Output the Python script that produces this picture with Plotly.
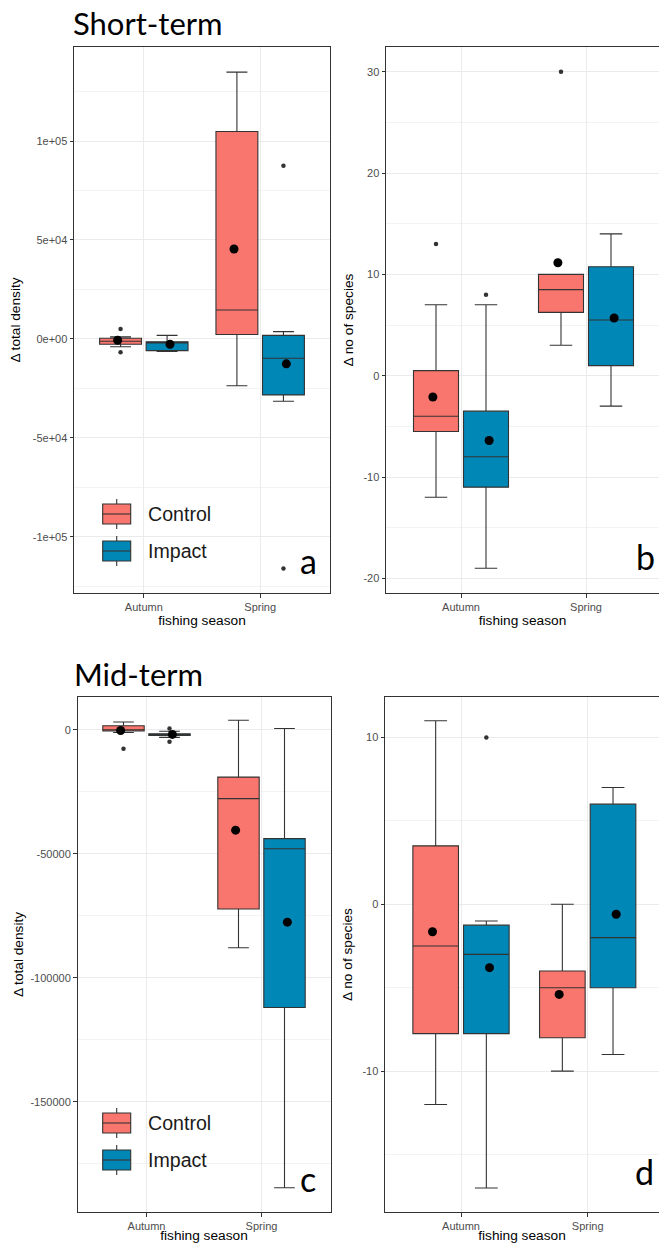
import plotly.graph_objects as go

W, H = 659, 1243

seasons = ["Autumn", "Spring"]
groups = ["Control", "Impact"]
fills = {"Control": "#F8766D", "Impact": "#0087B5"}

# Box summaries per season [Autumn, Spring]:
# (lower whisker, Q1, median, Q3, upper whisker)

# a) Short-term, Δ total density
a_control_box = [(-4000, -2700, -1200, 300, 1000), (-23700, 2200, 14600, 104800, 134800)]
a_control_mean = [-700, 45400]
a_control_out = [[5000, -6800], []]
a_impact_box = [(-6300, -5900, -2000, -1500, 1800), (-31500, -28300, -9800, 1800, 3700)]
a_impact_mean = [-2700, -12600]
a_impact_out = [[], [87500, -116000]]

# b) Short-term, Δ no of species
b_control_box = [(-12, -5.5, -4, 0.5, 7), (3, 6.25, 8.5, 10, 10)]
b_control_mean = [-2.1, 11.15]
b_control_out = [[13], [30]]
b_impact_box = [(-19, -11, -8, -3.5, 7), (-3, 1, 5.5, 10.75, 14)]
b_impact_mean = [-6.4, 5.7]
b_impact_out = [[8], []]

# c) Mid-term, Δ total density
c_control_box = [(-1000, -400, 100, 1700, 3200), (-87800, -72200, -27700, -19000, 3900)]
c_control_mean = [-200, -40400]
c_control_out = [[-7600], []]
c_impact_box = [(-3000, -2200, -1900, -1500, -500), (-184600, -111900, -47900, -43800, 600)]
c_impact_mean = [-1800, -77500]
c_impact_out = [[600, -4700], []]

# d) Mid-term, Δ no of species
d_control_box = [(-12, -7.75, -2.5, 3.5, 11), (-10, -8, -5, -4, 0)]
d_control_mean = [-1.65, -5.4]
d_control_out = [[], []]
d_impact_box = [(-17, -7.75, -3, -1.25, -1), (-9, -5, -2, 6, 7)]
d_impact_mean = [-3.8, -0.6]
d_impact_out = [[10], []]

panels = {
    "a": {"Control": (a_control_box, a_control_mean, a_control_out),
          "Impact": (a_impact_box, a_impact_mean, a_impact_out)},
    "b": {"Control": (b_control_box, b_control_mean, b_control_out),
          "Impact": (b_impact_box, b_impact_mean, b_impact_out)},
    "c": {"Control": (c_control_box, c_control_mean, c_control_out),
          "Impact": (c_impact_box, c_impact_mean, c_impact_out)},
    "d": {"Control": (d_control_box, d_control_mean, d_control_out),
          "Impact": (d_impact_box, d_impact_mean, d_impact_out)},
}

# y-axis ticks
a_ticks = [-100000, -50000, 0, 50000, 100000]
a_ticktext = ["-1e+05", "-5e+04", "0e+00", "5e+04", "1e+05"]
b_ticks = [-20, -10, 0, 10, 20, 30]
c_ticks = [-150000, -100000, -50000, 0]
d_ticks = [-10, 0, 10]


def px(x):
    return x / W


def py(y):
    return 1 - y / H


# pixel boxes of each panel: (left, top, right, bottom)
frames = {
    "a": (74, 47, 330, 593),
    "b": (386, 47, 659, 593),
    "c": (77.5, 697, 330.5, 1212),
    "d": (385, 697, 659, 1212),
}
xranges = {"a": [0.4, 2.6], "b": [0.4, 2.584], "c": [0.4, 2.6], "d": [0.4, 2.563]}
yranges = {"a": [-128400, 147500], "b": [-21.45, 32.45],
           "c": [-194400, 13300], "d": [-18.44, 12.42]}
ytitle = {"a": "Δ total density", "b": "Δ no of species",
          "c": "Δ total density", "d": "Δ no of species"}
ystandoff = {"a": 8, "b": 6, "c": 3, "d": 6}
axis_idx = {"a": "", "b": "2", "c": "3", "d": "4"}

BOX_OFF = 0.2
MEAN_OFF = 0.225
BOX_W = 0.36
GRID = "#EBEBEB"
MINOR = "#F3F3F3"
INK = "#333333"
TICKFONT = dict(family="Liberation Sans, Arial, sans-serif", size=11, color="#4D4D4D")
TITLEFONT = dict(family="Liberation Sans, Arial, sans-serif", size=13.7, color="black")

fig = go.Figure()

for key, pdata in panels.items():
    xa = "x" + axis_idx[key]
    ya = "y" + axis_idx[key]
    for g in groups:
        box, mean, out = pdata[g]
        sign = -1 if g == "Control" else 1
        centres = [i + 1 + sign * BOX_OFF for i in range(len(seasons))]
        low, q1, med, q3, up = (list(v) for v in zip(*box))
        fig.add_trace(go.Box(
            x=centres, lowerfence=low, q1=q1, median=med, q3=q3, upperfence=up,
            width=BOX_W, fillcolor=fills[g], line=dict(color=INK, width=1.1),
            boxpoints=False, name=g, showlegend=False, xaxis=xa, yaxis=ya,
        ))
        ox, oy = [], []
        for i, vals in enumerate(out):
            for v in vals:
                ox.append(centres[i])
                oy.append(v)
        if ox:
            fig.add_trace(go.Scatter(
                x=ox, y=oy, mode="markers", marker=dict(color=INK, size=4.5),
                showlegend=False, xaxis=xa, yaxis=ya, hoverinfo="y",
            ))
        fig.add_trace(go.Scatter(
            x=[i + 1 + sign * MEAN_OFF for i in range(len(seasons))], y=mean,
            mode="markers", marker=dict(color="black", size=9),
            showlegend=False, xaxis=xa, yaxis=ya, hoverinfo="y",
        ))

ticks_cfg = {
    "a": (a_ticks, a_ticktext),
    "b": (b_ticks, [str(t) for t in b_ticks]),
    "c": (c_ticks, [str(t) for t in c_ticks]),
    "d": (d_ticks, [str(t) for t in d_ticks]),
}

layout = dict(
    width=W, height=H, margin=dict(l=0, r=0, t=0, b=0),
    paper_bgcolor="white", plot_bgcolor="white", showlegend=False,
    font=dict(family="Liberation Sans, Arial, sans-serif"),
)

for key, (l, t, r, b) in frames.items():
    tv, tt = ticks_cfg[key]
    step = tv[1] - tv[0]
    lo, hi = yranges[key]
    minor_vals = []
    m = tv[0] - step / 2
    while m < hi:
        if m > lo:
            minor_vals.append(m)
        m += step
    right_open = key in ("b", "d")
    layout["xaxis" + axis_idx[key]] = dict(
        domain=[px(l), px(r)], range=xranges[key], anchor="y" + axis_idx[key],
        tickvals=[1, 2], ticktext=seasons, showgrid=True, gridcolor=GRID, gridwidth=1,
        zeroline=False, showline=True, linecolor=INK, linewidth=1, mirror=True,
        ticks="outside", ticklen=3.5, tickcolor=INK, tickwidth=1, tickfont=TICKFONT,
        title=dict(text="fishing season", font=TITLEFONT, standoff=2),
        fixedrange=True,
    )
    layout["yaxis" + axis_idx[key]] = dict(
        domain=[py(b), py(t)], range=yranges[key], anchor="x" + axis_idx[key],
        tickmode="array", tickvals=tv, ticktext=tt, showgrid=True, gridcolor=GRID,
        gridwidth=1, zeroline=False, showline=True, linecolor=INK, linewidth=1,
        mirror=not right_open, ticks="outside", ticklen=3.5, tickcolor=INK,
        tickwidth=1, tickfont=TICKFONT,
        minor=dict(tickmode="array", tickvals=minor_vals, showgrid=True,
                   gridcolor=MINOR, gridwidth=1, ticklen=0),
        title=dict(text=ytitle[key], font=TITLEFONT, standoff=ystandoff[key]),
        fixedrange=True,
    )

fig.update_layout(**layout)

# Row titles
fig.add_annotation(text="Short-term", x=px(71), y=py(23), xref="paper", yref="paper",
                   xanchor="left", yanchor="middle", showarrow=False,
                   font=dict(family="Lato, Open Sans, sans-serif", size=31, color="black"))
fig.add_annotation(text="Mid-term", x=px(72), y=py(674), xref="paper", yref="paper",
                   xanchor="left", yanchor="middle", showarrow=False,
                   font=dict(family="Lato, Open Sans, sans-serif", size=31, color="black"))

# Panel letters
letters = {"a": (298, 560), "b": (634, 556), "c": (298, 1178), "d": (633, 1171)}
for key, (lx, ly) in letters.items():
    fig.add_annotation(text=key, x=px(lx), y=py(ly), xref="paper", yref="paper",
                       xanchor="left", yanchor="middle", showarrow=False,
                       font=dict(family="Lato, Open Sans, sans-serif", size=34, color="black"))

# In-panel legends (panels a and c)
legend_rows = {"a": (489, 583, [514, 551]), "c": (1099, 1187, [1123, 1160])}
for key, (bg_top, bg_bot, rows) in legend_rows.items():
    fig.add_shape(type="rect", xref="paper", yref="paper", layer="between",
                  x0=px(77), x1=px(227), y0=py(bg_bot), y1=py(bg_top),
                  fillcolor="white", line=dict(width=0))
    for g, yc in zip(groups, rows):
        kx0, kx1 = 102.7, 130.7
        kxc = (kx0 + kx1) / 2
        fig.add_shape(type="line", xref="paper", yref="paper", layer="above",
                      x0=px(kxc), x1=px(kxc), y0=py(yc - 15), y1=py(yc + 15),
                      line=dict(color=INK, width=1.1))
        fig.add_shape(type="rect", xref="paper", yref="paper", layer="above",
                      x0=px(kx0), x1=px(kx1), y0=py(yc + 10), y1=py(yc - 10),
                      fillcolor=fills[g], line=dict(color=INK, width=1.1))
        fig.add_shape(type="line", xref="paper", yref="paper", layer="above",
                      x0=px(kx0), x1=px(kx1), y0=py(yc), y1=py(yc),
                      line=dict(color=INK, width=1.1))
        fig.add_annotation(text=g, x=px(146), y=py(yc), xref="paper", yref="paper",
                           xanchor="left", yanchor="middle", showarrow=False,
                           font=dict(family="Liberation Sans, Arial, sans-serif",
                                     size=19.6, color="#1A1A1A"))

fig.write_html("out.html")
